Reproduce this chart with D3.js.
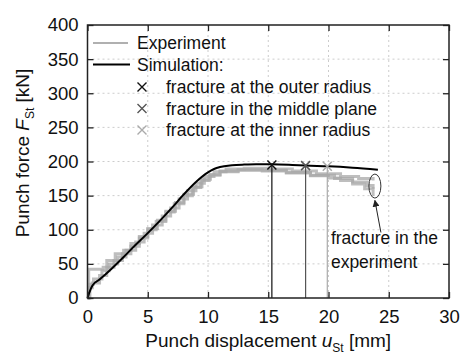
<!DOCTYPE html>
<html><head><meta charset="utf-8">
<script src="https://cdn.jsdelivr.net/npm/d3@7"></script>
<style>body{margin:0;background:#fff}text{font-family:"Liberation Sans",Arial,sans-serif;fill:#111}</style>
</head><body><svg id="c" width="474" height="361"></svg>
<script>
const xTicks=[0,5,10,15,20,25,30];
const yTicks=[0,50,100,150,200,250,300,350,400];
const simulation=[[0,0],[0.15,8],[0.4,18],[1,27],[2,43],[3,60],[4,78],[5,95],[6,113],[7,132],[8,152],[9,170],[10,184],[10.5,189],[11,192],[12,194.5],[13,195.5],[14,196],[15.3,196],[17,195],[18.1,194],[20,193],[22,191],[24.1,188]];
const experiment1=[[0,0],[0.2,20],[0.5,28],[1.2,40],[1.8,50],[2.5,60],[3.2,70],[4,82],[4.7,95],[5.4,107],[6.2,120],[6.9,132],[7.6,145],[8.3,157],[9,168],[9.7,178],[10.5,185],[11.5,189],[13,190],[15,189],[17,186],[19,182],[21,178],[22.5,175],[23.7,172]];
const experiment2=[[0,0],[0.1,42],[1.3,45],[1.6,55],[2.3,65],[3,70],[3.6,80],[4.3,90],[5,102],[5.8,114],[6.5,127],[7.3,140],[8,152],[8.8,163],[9.5,174],[10.2,181],[11,186],[12.5,188],[14.5,187],[16.5,184],[18.5,180],[20.5,175],[22,170],[23.2,165],[23.7,160]];
const experiment3=[[0,0],[0.1,15],[0.4,22],[1,33],[1.6,45],[2.2,55],[2.9,65],[3.6,76],[4.3,88],[5,100],[5.7,112],[6.5,126],[7.2,138],[8,150],[8.7,162],[9.4,172],[10.1,180],[11,185],[12.5,187],[14.5,186],[16.5,183],[18.5,179],[20,176],[21,172],[22,167],[23,160],[23.7,150]];
const fractures=[{x:15.3,y:195,label:"fracture at the outer radius",color:"#111"},{x:18.1,y:194,label:"fracture in the middle plane",color:"#555"},{x:19.9,y:193,label:"fracture at the inner radius",color:"#aaa"}];

const svg=d3.select("#c");
const m={l:87.5,r:449,t:25,b:298};
const x=d3.scaleLinear().domain([0,30]).range([m.l,m.r]);
const y=d3.scaleLinear().domain([0,400]).range([m.b,m.t]);

// grid
const g=svg.append("g");
g.selectAll(".gx").data(xTicks.slice(1,-1)).join("line").attr("x1",d=>x(d)).attr("x2",d=>x(d)).attr("y1",m.t).attr("y2",m.b).attr("stroke","#ccc").attr("stroke-dasharray","2,3");
g.selectAll(".gy").data(yTicks.slice(1,-1)).join("line").attr("y1",d=>y(d)).attr("y2",d=>y(d)).attr("x1",m.l).attr("x2",m.r).attr("stroke","#ccc").attr("stroke-dasharray","2,3");

// experiment
const stepLine=d3.line().x(d=>x(d[0])).y(d=>y(d[1])).curve(d3.curveStepAfter);
[experiment1,experiment2,experiment3].forEach(e=>{
  svg.append("path").attr("d",stepLine(e)).attr("fill","none").attr("stroke","#a8a8a8").attr("stroke-width",3).attr("opacity",0.75);
});
// simulation
const line=d3.line().x(d=>x(d[0])).y(d=>y(d[1])).curve(d3.curveMonotoneX);
svg.append("path").attr("d",line(simulation)).attr("fill","none").attr("stroke","#000").attr("stroke-width",2);

// fracture markers
function cross(sel,cx,cy,s,color,w){
  sel.append("path").attr("d",`M${cx-s},${cy-s}L${cx+s},${cy+s}M${cx-s},${cy+s}L${cx+s},${cy-s}`).attr("stroke",color).attr("stroke-width",w).attr("fill","none");
}
fractures.forEach(f=>{
  svg.append("line").attr("x1",x(f.x)).attr("x2",x(f.x)).attr("y1",y(f.y)).attr("y2",m.b).attr("stroke",f.color).attr("stroke-width",1.2);
  cross(svg,x(f.x),y(f.y),4.5,f.color,1.5);
});

// axes
const ax=svg.append("g").attr("transform",`translate(0,${m.b})`).call(d3.axisBottom(x).tickValues(xTicks).tickSizeInner(-6).tickSizeOuter(0).tickPadding(12));
const ay=svg.append("g").attr("transform",`translate(${m.l},0)`).call(d3.axisLeft(y).tickValues(yTicks).tickSizeInner(-6).tickSizeOuter(0).tickPadding(8));
const axT=svg.append("g").attr("transform",`translate(0,${m.t})`).call(d3.axisTop(x).tickValues(xTicks).tickSizeInner(-6).tickSizeOuter(0).tickFormat(""));
const ayR=svg.append("g").attr("transform",`translate(${m.r},0)`).call(d3.axisRight(y).tickValues(yTicks).tickSizeInner(-6).tickSizeOuter(0).tickFormat(""));
[ax,ay,axT,ayR].forEach(a=>{a.select(".domain").remove();a.selectAll("line").attr("stroke","#222").attr("stroke-width",1.3);a.selectAll("text").style("font-size","18.5px").attr("fill","#111").style("font-family","Liberation Sans, Arial");});
ay.selectAll("text").attr("dx","-1");
svg.append("rect").attr("x",m.l).attr("y",m.t).attr("width",m.r-m.l).attr("height",m.b-m.t).attr("fill","none").attr("stroke","#222").attr("stroke-width",1.5);

// axis titles
const xt=svg.append("text").attr("x",(m.l+m.r)/2).attr("y",347).attr("text-anchor","middle").style("font-size","19px");
xt.append("tspan").text("Punch displacement ");
xt.append("tspan").text("u").style("font-style","italic");
xt.append("tspan").text("St").style("font-size","12px").attr("dy","5");
xt.append("tspan").text(" [mm]").attr("dy","-5");
const yt=svg.append("text").attr("transform",`translate(29,${153}) rotate(-90)`).attr("text-anchor","middle").style("font-size","19px");
yt.append("tspan").text("Punch force ");
yt.append("tspan").text("F").style("font-style","italic");
yt.append("tspan").text("St").style("font-size","12px").attr("dy","5");
yt.append("tspan").text(" [kN]").attr("dy","-5");

// legend
const L=svg.append("g");
L.append("line").attr("x1",93).attr("x2",128).attr("y1",43).attr("y2",43).attr("stroke","#b0b0b0").attr("stroke-width",2);
L.append("text").attr("x",137).attr("y",49).text("Experiment").style("font-size","17.5px");
L.append("line").attr("x1",93).attr("x2",130).attr("y1",64.5).attr("y2",64.5).attr("stroke","#000").attr("stroke-width",2);
L.append("text").attr("x",137).attr("y",71).text("Simulation:").style("font-size","17.5px");
fractures.forEach((f,i)=>{
  const yy=87+i*21.5;
  cross(L,142,yy,4.5,f.color,1.4);
  L.append("text").attr("x",166).attr("y",yy+6).text(f.label).style("font-size","17.5px");
});

// annotation
svg.append("ellipse").attr("cx",x(23.85)).attr("cy",y(164)).attr("rx",6).attr("ry",12).attr("fill","none").attr("stroke","#333").attr("stroke-width",1);
svg.append("defs").append("marker").attr("id","ah").attr("viewBox","0 0 10 10").attr("refX",9).attr("refY",5).attr("markerWidth",7).attr("markerHeight",7).attr("orient","auto").append("path").attr("d","M0,0L10,5L0,10z").attr("fill","#222");
svg.append("line").attr("x1",x(24.35)).attr("y1",y(96)).attr("x2",x(23.85)).attr("y2",y(143)).attr("stroke","#222").attr("stroke-width",1).attr("marker-end","url(#ah)");
svg.append("text").attr("x",x(20.2)).attr("y",y(79)).text("fracture in the").style("font-size","17.5px");
svg.append("text").attr("x",x(20.2)).attr("y",y(44)).text("experiment").style("font-size","17.5px");
</script></body></html>
